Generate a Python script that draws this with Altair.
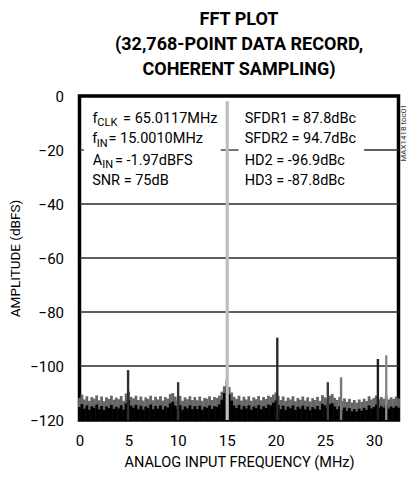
import altair as alt
import pandas as pd

FONT = "Roboto"

# ---------------- data ----------------
x_ticks = [0, 5, 10, 15, 20, 25, 30]
y_ticks = [0, -20, -40, -60, -80, -100, -120]
x_min, x_max = 0, 32.5
y_min, y_max = -120, 0

# noise floor, 0.25 MHz bins from 0 to 32.5 MHz
noise_freq = [round(i * 0.25, 2) for i in range(131)]
noise_top = [
    -111.8, -110.6, -112.4, -111.2, -112.9, -111.5, -112.1, -110.9, -112.7, -111.3, -113.0, -111.6, -112.2, -111.0, -112.5, -111.7,
    -112.3, -111.1, -112.9, -110.2, -109.5, -111.4, -112.0, -111.0, -112.6, -111.3, -112.8, -111.6, -112.2, -111.0, -112.7, -111.4,
    -112.4, -111.2, -112.8, -111.5, -112.1, -110.4, -110.0, -111.3, -112.5, -111.1, -112.9, -111.6, -112.3, -111.2, -112.6, -111.5,
    -112.7, -111.3, -112.9, -111.8, -112.1, -111.2, -112.6, -111.5, -111.8, -111.0, -109.5, -107.5, -105.0, -107.8, -109.8, -111.4,
    -112.2, -111.0, -112.8, -111.4, -112.4, -111.2, -112.9, -111.6, -112.3, -111.1, -112.7, -111.5, -112.2, -111.0, -111.5, -110.6,
    -109.8, -111.0, -112.6, -111.3, -112.9, -111.7, -112.4, -111.2, -113.0, -111.8, -112.5, -111.3, -112.8, -111.6, -113.1, -111.9,
    -112.6, -111.4, -112.9, -110.8, -111.6, -112.2, -111.0, -110.4, -111.8, -112.6, -111.5, -113.0, -112.0, -113.3, -112.2, -113.5,
    -112.6, -113.6, -112.4, -113.3, -112.1, -113.0, -111.2, -112.4, -111.8, -110.9, -112.3, -111.5, -112.1, -111.0, -112.4, -111.6,
    -112.2, -111.3, -112.0,
]
noise_core = [
    -115.2, -114.1, -115.8, -114.6, -116.2, -114.9, -115.5, -114.3, -116.0, -114.8, -116.3, -115.0, -115.6, -114.4, -115.9, -115.1,
    -115.7, -114.5, -116.1, -113.8, -112.6, -114.7, -115.4, -114.4, -116.0, -114.7, -116.2, -115.0, -115.6, -114.3, -116.0, -114.8,
    -115.8, -114.6, -116.1, -114.9, -115.4, -113.8, -113.2, -114.7, -115.9, -114.5, -116.2, -115.0, -115.7, -114.6, -116.0, -114.9,
    -116.0, -114.7, -116.2, -115.1, -115.5, -114.6, -115.9, -114.9, -115.1, -114.2, -112.5, -110.0, -107.5, -110.5, -112.8, -114.6,
    -115.6, -114.4, -116.1, -114.8, -115.7, -114.6, -116.2, -115.0, -115.6, -114.5, -116.0, -114.9, -115.5, -114.3, -114.6, -113.6,
    -112.8, -114.4, -116.0, -114.7, -116.2, -115.0, -115.7, -114.6, -116.3, -115.1, -115.8, -114.7, -116.1, -115.0, -116.4, -115.2,
    -115.9, -114.8, -116.2, -114.0, -114.6, -115.5, -114.2, -113.8, -115.0, -116.0, -114.9, -116.3, -115.4, -116.6, -115.6, -116.8,
    -116.0, -116.9, -115.8, -116.6, -115.5, -116.3, -114.6, -115.7, -115.2, -114.3, -115.6, -114.9, -115.4, -114.5, -115.8, -115.0,
    -115.6, -114.8, -115.4,
]

# spurs / harmonics
spur_freq = [4.95, 10.05, 20.15, 25.3, 26.65, 30.4, 31.25]
spur_level = [-101.5, -106.0, -89.5, -106.0, -104.2, -97.4, -96.0]
spur_shade = ["#2e2e2e", "#333333", "#2a2a2a", "#3c3c3c", "#777777", "#1e1e1e", "#8a8a8a"]

# fundamental
fund_freq = [15.05]
fund_level = [-1.97]

# grid
grid_levels = [-40, -60, -80, -100]
grid20_x = [0.0, 14.4, 29.0]
grid20_x2 = [0.45, 16.2, 32.5]

# annotation pieces: text, x (MHz), y (dB at baseline), subscript flag
ann_text = ["f", "CLK", "= 65.0117MHz",
            "f", "IN", "= 15.0010MHz",
            "A", "IN", "= -1.97dBFS",
            "SNR = 75dB",
            "SFDR1 = 87.8dBc", "SFDR2 = 94.7dBc", "HD2 = -96.9dBc", "HD3 = -87.8dBc"]
ann_x = [1.32, 1.82, 4.44,
         1.29, 1.75, 2.95,
         1.36, 2.32, 3.61,
         1.29,
         16.83, 16.83, 16.83, 16.83]
ann_y = [-9.89, -11.2, -9.89,
         -17.59, -18.9, -17.59,
         -25.48, -26.8, -25.48,
         -32.96,
         -9.89, -17.59, -25.48, -32.96]
ann_sub = [False, True, False,
           False, True, False,
           False, True, False,
           False,
           False, False, False, False]

side_note = ["MAX1418 toc01"]
side_x = [33.11]
side_y = [-13.7]

title_lines = ["FFT PLOT", "(32,768-POINT DATA RECORD,", "COHERENT SAMPLING)"]

# ---------------- chart ----------------
x_scale = alt.Scale(domain=[x_min, x_max], nice=False, zero=False)
y_scale = alt.Scale(domain=[y_min, y_max], nice=False, zero=False)

x_axis = alt.Axis(values=x_ticks, grid=False, ticks=False, tickSize=0, domain=False,
                  labelFont=FONT, labelFontSize=15, labelColor="black", labelPadding=13,
                  titleFont=FONT, titleFontSize=14.5, titleFontWeight="normal", titleColor="black",
                  titlePadding=7.5, labelFlush=False)
y_axis = alt.Axis(values=y_ticks, grid=False, ticks=False, tickSize=0, domain=False,
                  labelFont=FONT, labelFontSize=15, labelColor="black", labelPadding=16,
                  titleFont=FONT, titleFontSize=13.5, titleFontWeight="normal", titleColor="black",
                  titlePadding=7.5, labelFlush=False)

X_TITLE = "ANALOG INPUT FREQUENCY (MHz)"
Y_TITLE = "AMPLITUDE (dBFS)"


def X(field):
    return alt.X(field, type="quantitative", scale=x_scale, axis=x_axis, title=X_TITLE)


def Y(field):
    return alt.Y(field, type="quantitative", scale=y_scale, axis=y_axis, title=Y_TITLE)


noise_df = pd.DataFrame({"x": noise_freq, "top": noise_top, "core": noise_core,
                         "floor": [y_min] * len(noise_freq)})
spur_df = pd.DataFrame({"x": spur_freq, "y": spur_level, "c": spur_shade,
                        "floor": [y_min] * len(spur_freq)})
fund_df = pd.DataFrame({"x": fund_freq, "y": fund_level, "floor": [y_min]})
grid_df = pd.DataFrame({"x": [x_min] * len(grid_levels), "x2": [x_max] * len(grid_levels), "y": grid_levels})
grid20_df = pd.DataFrame({"x": grid20_x, "x2": grid20_x2, "y": [-20] * len(grid20_x)})
ann_df = pd.DataFrame({"t": ann_text, "x": ann_x, "y": ann_y, "sub": ann_sub})
side_df = pd.DataFrame({"t": side_note, "x": side_x, "y": side_y})

grid = alt.Chart(grid_df).mark_rule(color="#2a2a2a", strokeWidth=1.3).encode(
    x=X("x"), x2="x2", y=Y("y"))
grid20 = alt.Chart(grid20_df).mark_rule(color="#2a2a2a", strokeWidth=1.3).encode(
    x=X("x"), x2="x2", y=Y("y"))

fuzz = alt.Chart(noise_df).mark_rule(color="#666666", strokeWidth=2.8).encode(
    x=X("x"), y=Y("top"), y2="floor")
core = alt.Chart(noise_df).mark_rule(color="#000000", strokeWidth=2.8).encode(
    x=X("x"), y=Y("core"), y2="floor")

spurs = alt.Chart(spur_df).mark_rule(strokeWidth=2.4).encode(
    x=X("x"), y=Y("y"), y2="floor", color=alt.Color("c:N", scale=None))

fund = alt.Chart(fund_df).mark_rule(color="#bdbdbd", strokeWidth=3.2).encode(
    x=X("x"), y=Y("y"), y2="floor")

main_txt = alt.Chart(ann_df).transform_filter("!datum.sub").mark_text(
    font=FONT, fontSize=14.5, align="left", baseline="alphabetic", color="black").encode(
    x=X("x"), y=Y("y"), text="t:N")
sub_txt = alt.Chart(ann_df).transform_filter("datum.sub").mark_text(
    font=FONT, fontSize=11, align="left", baseline="alphabetic", color="black").encode(
    x=X("x"), y=Y("y"), text="t:N")

side_txt = alt.Chart(side_df).mark_text(
    font=FONT, fontSize=8, angle=270, align="center", baseline="middle", color="#333333").encode(
    x=X("x"), y=Y("y"), text="t:N")

chart = alt.layer(grid, grid20, fuzz, core, spurs, fund, main_txt, sub_txt, side_txt).properties(
    width=319, height=324,
    title=alt.TitleParams(text=title_lines, font=FONT, fontSize=18, fontWeight="bold",
                          lineHeight=25, anchor="middle", offset=10, color="black"),
    autosize=alt.AutoSizeParams(type="none"),
    padding={"left": 71.5, "top": 88, "right": 10, "bottom": 52},
    background="white",
).configure_view(stroke="black", strokeWidth=3.5)

chart.save("out.html", embed_options={"renderer": "svg", "actions": False})
